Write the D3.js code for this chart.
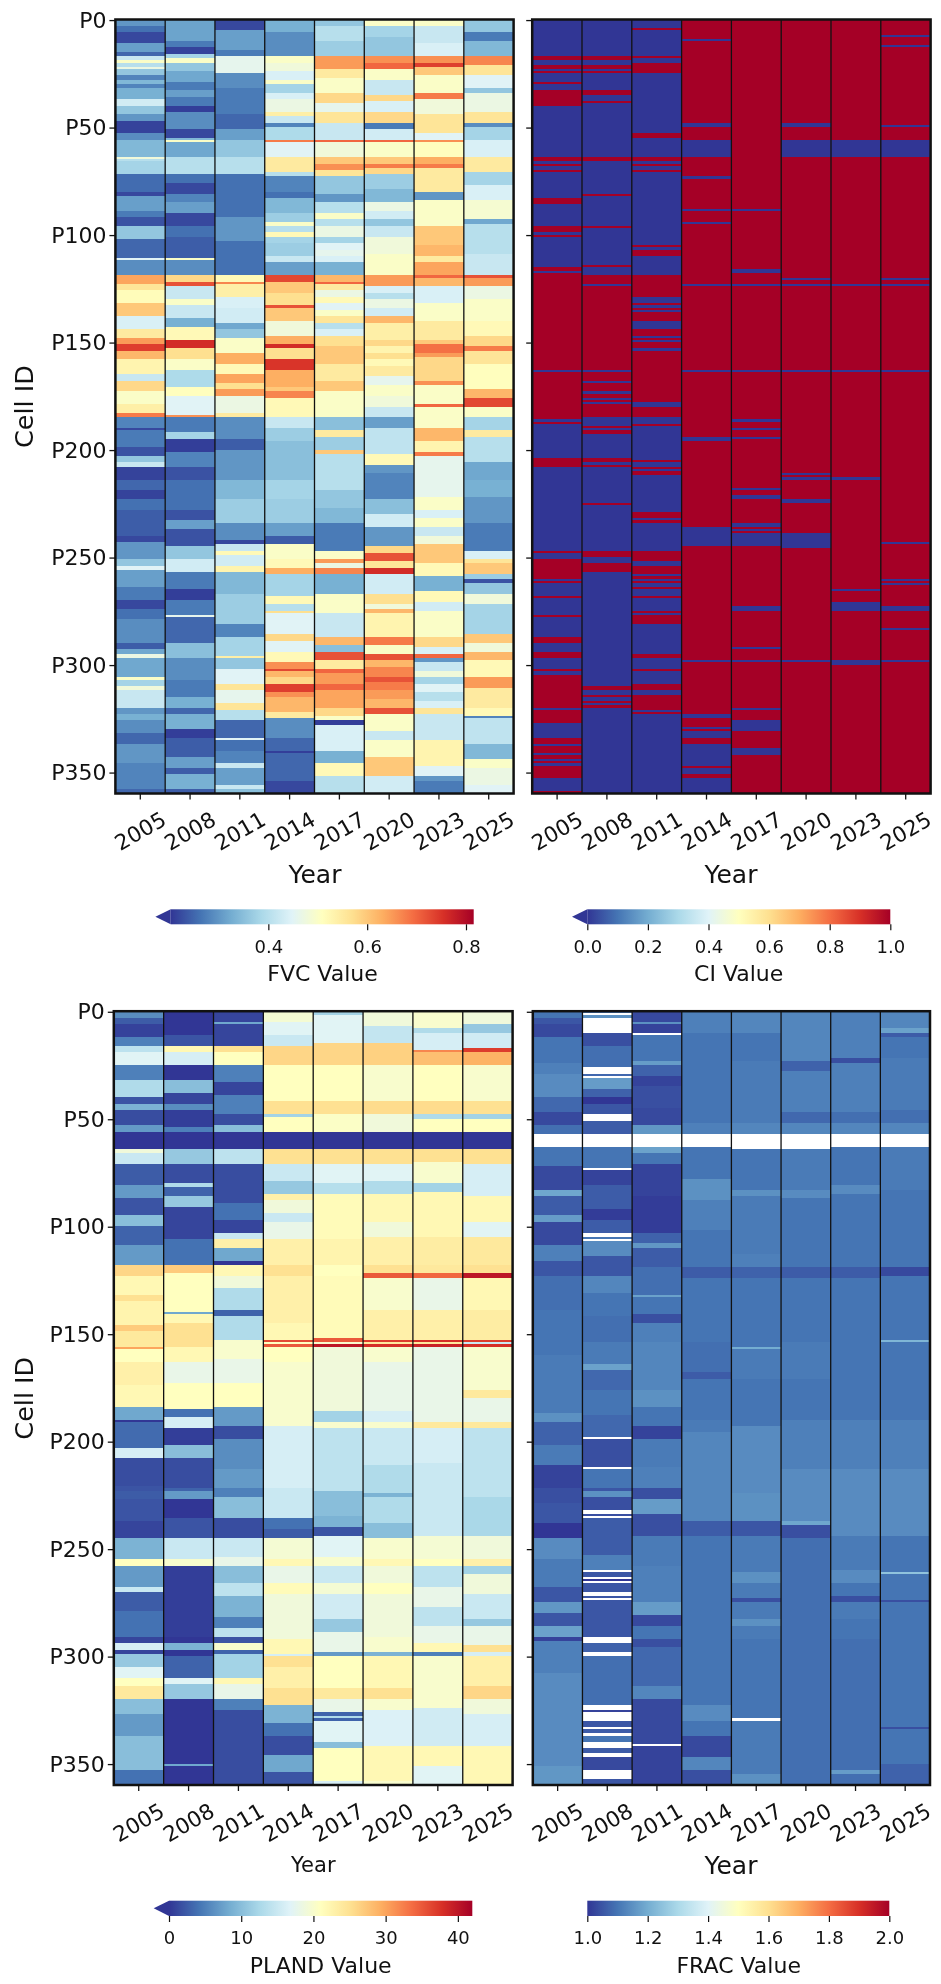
<!DOCTYPE html>
<html>
<head>
<meta charset="utf-8">
<script src="https://cdn.jsdelivr.net/npm/d3@7"></script>
<style>
  html, body { margin: 0; padding: 0; background: #fff; }
  svg { display: block; font-family: "DejaVu Sans", sans-serif; filter: blur(0.45px); }
</style>
</head>
<body>
<div id="chart"></div>
<script>
// categories and ticks
var years = ["2005", "2008", "2011", "2014", "2017", "2020", "2023", "2025"];
var cellCount = 360;
var cellTicks = [0, 50, 100, 150, 200, 250, 300, 350];
var cmapStops = ["#313695", "#4575b4", "#74add1", "#abd9e9", "#e0f3f8", "#ffffbf", "#fee090", "#fdae61", "#f46d43", "#d73027", "#a50026"];

var fvc2005 = [3,.30,6,.26,11,.22,15,.31,17,.25,19,.42,20,.5,22,.40,23,.47,26,.36,28,.28,30,.34,32,.28,37,.33,40,.43,44,.36,47,.30,53,.215,56,.29,64,.34,65,.48,66,.40,72,.38,80,.255,82,.22,89,.31,92,.27,96,.23,102,.36,111,.25,112,.45,119,.29,123,.64,126,.56,132,.515,138,.60,144,.44,148,.55,151,.65,154,.74,158,.62,165,.53,168,.42,173,.58,179,.50,183,.54,185,.68,190,.28,191,.22,199,.27,203,.23,206,.36,208,.42,214,.215,219,.25,223,.215,228,.26,240,.24,243,.22,251,.30,254,.36,256,.45,264,.31,270,.27,274,.22,279,.26,290,.29,293,.24,295,.32,297,.47,306,.32,307,.5,310,.38,312,.48,320,.42,323,.30,326,.33,332,.29,337,.25,346,.30,358,.28,360,.25];
var fvc2008 = [10,.315,13,.27,16,.215,18,.38,20,.50,24,.36,29,.32,33,.27,36,.31,40,.27,43,.21,51,.29,55,.22,56,.34,57,.50,64,.32,72,.40,76,.26,81,.22,85,.28,90,.31,96,.22,101,.26,111,.24,112,.50,119,.29,122,.58,124,.72,130,.42,133,.50,139,.42,143,.33,149,.52,153,.76,158,.57,163,.50,171,.39,175,.51,184,.45,185,.66,192,.27,195,.38,201,.21,208,.28,214,.23,228,.26,233,.23,237,.31,245,.23,251,.36,257,.43,265,.27,270,.21,277,.27,278,.46,290,.25,297,.35,307,.29,315,.27,320,.33,323,.25,330,.33,334,.21,343,.24,348,.31,351,.24,358,.33,360,.24];
var fvc2011 = [5,.22,14,.31,17,.27,25,.46,32,.29,44,.27,51,.25,56,.31,64,.36,72,.40,80,.26,92,.26,103,.30,119,.26,122,.52,123,.67,129,.54,134,.44,141,.43,144,.32,148,.36,155,.50,160,.63,165,.52,169,.64,172,.57,175,.65,183,.47,185,.55,195,.29,200,.24,214,.30,223,.34,234,.37,242,.29,244,.22,247,.42,249,.52,254,.43,257,.53,267,.34,281,.37,287,.28,296,.38,297,.54,302,.36,309,.45,312,.56,318,.46,321,.56,326,.40,334,.25,335,.45,340,.26,346,.28,348,.42,356,.31,358,.42,360,.35];
var fvc2014 = [6,.33,17,.29,20,.50,24,.48,28,.44,30,.50,34,.38,37,.44,43,.47,45,.54,48,.42,50,.28,56,.39,57,.68,64,.45,71,.55,73,.40,80,.28,83,.26,90,.34,94,.37,96,.50,99,.40,101,.52,104,.38,110,.37,113,.42,119,.31,122,.73,127,.60,133,.57,134,.72,140,.60,147,.48,151,.63,153,.76,158,.57,163,.75,171,.63,173,.60,176,.67,185,.52,190,.42,196,.37,214,.35,223,.38,234,.37,240,.31,244,.24,251,.50,255,.52,258,.63,268,.38,272,.52,275,.40,276,.57,286,.45,289,.58,294,.45,299,.52,302,.66,303,.73,306,.62,309,.58,313,.74,315,.66,322,.62,325,.55,334,.29,340,.25,341,.21,354,.25,360,.22];
var fvc2017 = [3,.36,10,.40,17,.37,23,.65,27,.55,34,.50,39,.58,43,.46,48,.56,56,.42,57,.70,64,.48,67,.60,70,.66,73,.56,81,.36,85,.30,90,.40,93,.50,96,.40,101,.47,104,.38,107,.45,110,.46,113,.44,119,.33,122,.62,123,.70,126,.55,129,.47,132,.52,135,.45,138,.50,141,.56,144,.40,147,.44,152,.57,160,.60,168,.55,173,.60,185,.50,191,.35,194,.55,200,.37,202,.60,219,.40,227,.36,234,.34,247,.27,251,.50,253,.65,255,.47,258,.67,267,.33,276,.50,287,.42,291,.62,294,.35,298,.72,302,.55,304,.70,309,.65,312,.70,320,.64,324,.58,326,.50,328,.21,340,.44,346,.33,352,.52,360,.40];
var fvc2020 = [3,.50,8,.38,17,.36,20,.66,23,.70,28,.50,35,.42,38,.58,43,.44,48,.58,51,.27,56,.43,57,.70,64,.50,67,.60,69,.68,72,.58,79,.37,85,.34,89,.47,93,.43,96,.36,101,.42,109,.48,119,.50,124,.65,127,.44,130,.40,134,.47,138,.43,141,.62,149,.54,152,.58,155,.53,158,.57,161,.52,166,.55,170,.46,175,.50,180,.48,185,.42,190,.31,202,.41,207,.52,211,.30,223,.28,230,.35,236,.43,245,.30,248,.58,252,.72,255,.56,258,.76,267,.43,272,.57,274,.48,276,.62,287,.53,291,.68,295,.50,298,.72,301,.62,306,.67,308,.72,312,.68,316,.65,320,.62,323,.72,331,.50,335,.42,343,.50,352,.60,360,.43];
var fvc2023 = [3,.50,11,.42,17,.44,20,.66,22,.74,26,.60,34,.50,37,.68,44,.48,53,.56,56,.45,57,.66,64,.51,67,.63,69,.68,80,.55,84,.30,96,.50,105,.60,110,.62,113,.55,119,.64,120,.70,124,.62,132,.44,140,.50,149,.55,151,.60,155,.69,157,.65,168,.58,170,.66,179,.50,180,.70,190,.50,196,.62,201,.53,203,.68,222,.46,228,.50,232,.44,236,.50,240,.42,244,.48,253,.60,259,.52,266,.33,271,.52,275,.43,287,.50,292,.58,295,.44,297,.70,299,.30,303,.42,306,.48,309,.38,313,.45,317,.40,320,.44,323,.56,335,.42,347,.53,352,.45,354,.30,360,.27];
var fvc2025 = [6,.36,10,.27,17,.34,21,.67,26,.56,32,.45,34,.36,43,.47,48,.56,50,.29,56,.38,64,.44,71,.55,77,.38,84,.44,93,.49,95,.32,109,.40,119,.42,120,.72,124,.65,130,.47,140,.50,147,.52,152,.58,154,.68,160,.56,172,.51,176,.62,180,.73,185,.50,191,.38,194,.55,206,.40,214,.32,222,.33,234,.30,247,.27,251,.44,253,.56,258,.60,260,.37,262,.23,267,.36,272,.48,286,.38,290,.60,294,.48,298,.62,306,.52,311,.65,320,.55,324,.52,325,.28,337,.41,344,.34,348,.50,356,.47,360,.45];

var ci2005 = [17,0,19,1,21,0,23,1,24,0,25,1,29,0,30,1,33,0,40,1,64,0,66,1,67,0,68,1,70,0,71,1,83,0,86,1,96,0,99,1,100,0,101,1,115,0,117,1,118,0,163,1,164,0,186,1,187,0,188,1,204,0,208,1,247,0,248,1,251,0,260,1,261,0,262,1,268,0,269,1,277,0,278,1,287,0,290,1,294,0,297,1,302,0,303,1,305,0,320,1,321,0,327,1,334,0,337,1,338,0,341,1,342,0,344,1,345,0,346,1,347,0,353,1,359,0,360,1];
var ci2008 = [17,0,19,1,21,0,23,1,24,0,25,1,33,0,35,1,38,0,39,1,64,0,66,1,81,0,82,1,96,0,97,1,114,0,115,1,119,0,123,1,124,0,163,1,164,0,168,1,169,0,173,1,174,0,176,1,177,0,178,1,179,0,185,1,189,0,190,1,191,0,193,1,204,0,206,1,207,0,208,1,225,0,226,1,247,0,250,1,253,0,257,1,310,0,312,1,314,0,315,1,317,0,318,1,319,0,320,1,360,0];
var ci2011 = [4,0,5,1,17,0,18,1,20,0,25,1,53,0,55,1,64,0,66,1,67,0,68,1,70,0,71,1,105,0,106,1,107,0,110,1,119,0,129,1,132,0,133,1,134,0,135,1,136,0,140,1,144,0,147,1,148,0,149,1,150,0,153,1,154,0,178,1,180,0,185,1,188,0,189,1,205,0,206,1,208,0,209,1,210,0,212,1,229,0,232,1,233,0,234,1,247,0,252,1,254,0,258,1,259,0,260,1,261,0,262,1,264,0,265,1,268,0,269,1,275,0,276,1,277,0,281,1,295,0,297,1,302,0,303,1,309,0,312,1,314,0,321,1,322,0,323,1,360,0];
var ci2014 = [9,1,10,0,48,1,50,0,56,1,64,0,73,1,74,0,88,1,89,0,94,1,95,0,123,1,124,0,163,1,164,0,194,1,196,0,236,1,245,0,298,1,299,0,323,1,325,0,329,1,330,0,331,1,334,0,337,1,347,0,348,1,351,0,353,1,360,0];
var ci2017 = [88,1,89,0,116,1,118,0,123,1,124,0,163,1,164,0,186,1,187,0,190,1,191,0,194,1,195,0,218,1,219,0,221,1,223,0,234,1,236,0,237,1,238,0,239,1,245,0,273,1,275,0,292,1,293,0,298,1,299,0,320,1,321,0,326,1,331,0,339,1,342,0,360,1];
var ci2020 = [48,1,50,0,56,1,64,0,120,1,121,0,123,1,124,0,163,1,164,0,211,1,212,0,213,1,214,0,223,1,225,0,239,1,246,0,298,1,299,0,360,1];
var ci2023 = [56,1,64,0,123,1,124,0,163,1,164,0,213,1,214,0,265,1,266,0,271,1,275,0,298,1,300,0,360,1];
var ci2025 = [7,1,8,0,12,1,13,0,49,1,50,0,56,1,64,0,120,1,121,0,123,1,124,0,163,1,164,0,243,1,244,0,260,1,261,0,262,1,263,0,273,1,275,0,283,1,284,0,298,1,299,0,360,1];

var pland2005 = [3,6,6,2.5,12,.8,16,5,19,14,25,17,32,5,40,13,43,2,46,9,53,1.5,56,7,64,0,66,19,71,15,81,2.5,87,7,95,2,100,10,109,3,118,7,123,26,132,22,135,25,146,22.5,149,27,156,24,157,30,163,21,174,23,184,22,190,8,191,0,203,3.5,208,16,221,1.5,223,2,227,2.5,237,2,245,1,255,9,258,21,268,7,270,15,279,2.5,291,4,294,1,297,16,299,1,305,11,310,17,314,21,320,24,327,10,337,7,353,10,360,4];
var pland2008 = [11,0,16,2,19,22,25,16,32,0,38,10,43,1,46,6,54,.5,56,5,64,0,71,11,80,1.5,82,13,86,3,91,11,95,1,106,1,118,4,122,27,140,21,141,8,145,22,156,25,163,22,173,18,185,21,189,4,194,16,202,.5,208,10,222,1.5,223,3,227,7,236,0,245,2,255,15,258,20,291,.5,294,0,297,9,300,0,310,3,313,17,320,11,350,0,351,8,360,0];
var pland2011 = [5,1,6,8,16,1,19,25,25,21,33,5,39,1,48,5,53,1.5,56,10,64,0,71,14,89,1.5,97,4,103,1,106,15,110,23,116,8,118,0,123,22,129,19,139,13,142,3,153,13,162,20,173,18,184,21,193,7,199,1.5,213,6,222,7,226,5,236,10,245,1.5,254,15,258,18,266,10,272,14,282,9,287,5,291,14,294,2,297,20,299,3,310,12,313,22,320,18,325,5,360,1.5];
var pland2014 = [5,19.5,11,17,16,15,25,26,42,21,48,25,49,12,56,21,64,0,71,25,79,15,85,11,88,23,94,19,98,15,106,18,118,23,123,25,145,23,153,22,154,36,155,21,156,35,163,21,193,20,222,16,236,15,241,4,245,2.5,255,19.5,258,22,266,18,271,21.5,292,19,299,22,300,16,305,25,315,23,323,25,331,9,337,4,346,1.5,354,8,360,2];
var pland2017 = [2,12,15,17,25,26,42,21,48,25,56,20.5,64,0,71,25,80,17,85,13.5,106,21.5,118,22.5,123,21,152,21.5,154,35,155,20,156,40,186,19,191,12,194,20,223,14,235,10,240,9,244,2,254,17,258,20,266,15,271,19.5,283,15.5,289,11,298,18,300,7,315,21,320,24,326,18,328,3,329,13,330,3,340,17,343,10,358,21,360,16];
var pland2020 = [7,19,15,14.5,25,26.5,42,20,48,25.5,56,19,64,0,71,25,79,17,85,13,98,22,105,19,118,23,122,25,124,35,139,20,153,23,154,37,155,24,156,38,163,20,186,18,191,16,194,20,211,15,224,13,226,9,238,13,245,10,255,20,258,22,266,19,271,21,291,19,298,20,300,9,315,22,320,25,325,20,342,16.5,358,22,360,20];
var pland2023 = [8,20,10,13,18,16,19,32,25,28,42,21,48,25.5,50,13,56,21,64,0,70,25,80,20,84,12,105,22,118,23.5,122,24,124,34,139,18,153,23,154,38,155,24,156,39,191,18,194,24,210,16,244,15,255,19.5,258,21,268,14,277,18,286,14,294,18,298,22,300,5,324,20,342,15.5,351,22,360,17];
var pland2025 = [6,19,10,11,17,15.5,19,37,25,29,42,20,48,25,50,12,56,21,64,0,71,25,86,16,98,22,105,17,118,24,122,25,124,40,139,22,153,23.5,154,37,155,15,156,38,176,20,180,24,191,18,194,24,226,14,244,12.5,255,19,258,23,262,12,271,19,283,15,286,11,295,18,298,25,300,16,314,23,320,26,327,19,342,16,360,22];

// null = no data, left white
var frac2005 = [3,1.10,6,1.05,12,1.03,24,1.10,29,1.12,40,1.14,47,1.08,53,1.03,57,1.09,63,null,72,1.10,83,1.03,86,1.19,95,1.06,98,1.17,109,1.03,116,1.12,123,1.05,139,1.09,160,1.10,187,1.11,191,1.15,202,1.07,211,1.11,222,1.02,229,1.04,238,1.05,245,1.0,255,1.14,268,1.11,275,1.05,280,1.16,286,1.05,291,1.18,293,1.02,308,1.12,327,1.14,351,1.14,360,1.16];
var frac2008 = [1,1.10,2,null,3,1.15,10,null,16,1.04,26,1.09,29,null,30,1.08,31,null,36,1.17,40,1.07,43,1.0,48,1.05,51,null,57,1.06,63,null,73,1.10,74,null,81,1.02,92,1.06,97,1.01,103,1.06,105,null,106,1.10,107,null,114,1.14,123,1.05,131,1.13,142,1.10,154,1.09,164,1.11,167,1.18,176,1.08,188,1.10,198,1.08,199,null,212,1.04,213,null,222,1.10,223,1.05,226,1.15,232,1.04,234,null,235,1.04,236,null,253,1.06,260,1.12,261,null,263,1.05,264,null,265,1.0,266,null,270,1.05,272,null,273,1.05,274,null,291,1.05,294,null,298,1.07,300,null,323,1.09,325,null,326,1.02,330,null,333,1.05,334,null,336,1.06,337,null,340,1.10,343,null,345,1.06,347,null,353,1.03,357,null,360,1.05];
var frac2011 = [5,1.03,6,1.15,10,1.02,11,null,23,1.10,25,1.17,30,1.07,35,1.02,45,1.04,53,1.03,57,1.16,63,null,66,1.18,71,1.10,86,1.02,103,1.01,108,1.07,110,1.16,119,1.06,126,1.09,132,1.09,133,1.18,141,1.10,145,1.04,154,1.12,176,1.13,184,1.15,193,1.10,199,1.02,212,1.11,222,1.12,227,1.04,234,1.17,244,1.04,258,1.11,275,1.12,281,1.17,286,1.03,292,1.10,296,1.04,314,1.08,320,1.13,341,1.03,342,null,360,1.02];
var frac2014 = [10,1.12,52,1.10,57,1.12,63,null,78,1.10,88,1.15,102,1.12,119,1.10,124,1.06,154,1.10,168,1.09,171,1.06,190,1.10,196,1.11,237,1.13,244,1.06,323,1.10,330,1.14,337,1.10,347,1.03,353,1.13,360,1.04];
var frac2017 = [10,1.13,23,1.10,52,1.11,57,1.13,64,null,83,1.10,86,1.15,113,1.11,119,1.12,124,1.07,156,1.10,157,1.20,171,1.11,193,1.10,224,1.14,237,1.15,244,1.05,261,1.11,266,1.15,273,1.11,275,1.04,283,1.11,286,1.15,292,1.11,329,1.10,330,null,355,1.11,360,1.15];
var frac2020 = [23,1.13,28,1.07,47,1.12,52,1.08,57,1.13,64,null,83,1.11,87,1.14,119,1.10,124,1.06,154,1.10,171,1.11,190,1.10,213,1.12,224,1.14,237,1.14,239,1.19,245,1.04,360,1.09];
var frac2023 = [22,1.12,24,1.04,47,1.12,52,1.09,57,1.13,63,null,81,1.10,85,1.14,119,1.10,124,1.06,165,1.10,190,1.10,213,1.12,244,1.14,260,1.11,266,1.14,272,1.10,275,1.04,283,1.11,292,1.10,353,1.09,355,1.17,360,1.09];
var frac2025 = [8,1.13,10,1.18,12,1.06,22,1.10,46,1.11,52,1.09,57,1.13,63,null,83,1.11,119,1.10,123,1.03,153,1.10,154,1.22,190,1.10,213,1.12,244,1.14,261,1.10,262,1.25,274,1.10,275,1.04,333,1.10,334,1.04,350,1.10,360,1.07];

var panels = [
  { series: [fvc2005, fvc2008, fvc2011, fvc2014, fvc2017, fvc2020, fvc2023, fvc2025],
    left: 115.4, right: 513.6, top: 19.5, bottom: 793.5, yLabel: true, yearSize: 25, yearBase: 882.7,
    yearX: 315, tickMid: 831, vmin: 0.2024, vmax: 0.8156, arrow: true,
    cbLeft: 170.7, cbRight: 473.7, cbTop: 909.3, cbBottom: 924.3,
    cbTicks: [0.4, 0.6, 0.8], cbFormat: d3.format(".1f"), cbBase: 952.7, cbTitle: "FVC Value", cbTitleX: 322.5, cbTitleBase: 981 },
  { series: [ci2005, ci2008, ci2011, ci2014, ci2017, ci2020, ci2023, ci2025],
    left: 532.2, right: 930.6, top: 19.5, bottom: 793.5, yLabel: false, yearSize: 25, yearBase: 882.7,
    yearX: 731, tickMid: 831, vmin: 0, vmax: 1, arrow: true,
    cbLeft: 587.3, cbRight: 890.3, cbTop: 909.3, cbBottom: 924.3,
    cbTicks: [0, 0.2, 0.4, 0.6, 0.8, 1], cbFormat: d3.format(".1f"), cbBase: 952.7, cbTitle: "CI Value", cbTitleX: 738.7, cbTitleBase: 981 },
  { series: [pland2005, pland2008, pland2011, pland2014, pland2017, pland2020, pland2023, pland2025],
    left: 113.8, right: 512.6, top: 1011.2, bottom: 1785, yLabel: true, yearSize: 21, yearBase: 1872,
    yearX: 313.3, tickMid: 1822.5, vmin: 0, vmax: 42, arrow: true,
    cbLeft: 169, cbRight: 472.3, cbTop: 1900.7, cbBottom: 1916,
    cbTicks: [0, 10, 20, 30, 40], cbFormat: d3.format("d"), cbBase: 1944.3, cbTitle: "PLAND Value", cbTitleX: 320.7, cbTitleBase: 1972.7 },
  { series: [frac2005, frac2008, frac2011, frac2014, frac2017, frac2020, frac2023, frac2025],
    left: 532.8, right: 930, top: 1011.2, bottom: 1785, yLabel: false, yearSize: 25, yearBase: 1874.3,
    yearX: 731, tickMid: 1822.5, vmin: 1, vmax: 2, arrow: false,
    cbLeft: 587.3, cbRight: 889.3, cbTop: 1900.7, cbBottom: 1916,
    cbTicks: [1, 1.2, 1.4, 1.6, 1.8, 2], cbFormat: d3.format(".1f"), cbBase: 1944.3, cbTitle: "FRAC Value", cbTitleX: 738.7, cbTitleBase: 1972.7 }
];

var svg = d3.select("#chart").append("svg").attr("width", 941).attr("height", 1984);

var defs = svg.append("defs");
defs.append("linearGradient").attr("id", "cmap")
  .selectAll("stop").data(cmapStops).enter().append("stop")
  .attr("offset", (d, i) => i * 10 + "%")
  .attr("stop-color", (d) => d);

var stopAt = d3.scaleLinear().domain(d3.range(cmapStops.length).map((i) => i / 10)).range(cmapStops).clamp(true);

// pairs -> one value per row
function expandRuns(runs) {
  var out = [];
  for (var i = 0; i < runs.length; i += 2) {
    while (out.length < runs[i]) out.push(runs[i + 1]);
  }
  return out;
}

panels.forEach(function (p) {
  var g = svg.append("g");
  var x = d3.scaleBand().domain(years).range([p.left, p.right]);
  var y = d3.scaleBand().domain(d3.range(cellCount)).range([p.top, p.bottom]);
  var norm = d3.scaleLinear().domain([p.vmin, p.vmax]).range([0, 1]);

  years.forEach(function (year, c) {
    var values = expandRuns(p.series[c]);
    g.append("g").selectAll("rect")
      .data(values.map((v, r) => ({ r: r, v: v })).filter((d) => d.v !== null))
      .enter().append("rect")
      .attr("x", x(year))
      .attr("y", (d) => y(d.r))
      .attr("width", x.bandwidth())
      .attr("height", y.bandwidth())
      .attr("shape-rendering", "crispEdges")
      .attr("fill", (d) => stopAt(norm(d.v)));
  });

  // column separators
  g.append("g").selectAll("line").data(years.slice(1)).enter().append("line")
    .attr("x1", (d) => x(d)).attr("x2", (d) => x(d))
    .attr("y1", p.top).attr("y2", p.bottom)
    .attr("stroke", "#111").attr("stroke-width", 1.3);

  g.append("rect")
    .attr("x", p.left).attr("y", p.top)
    .attr("width", p.right - p.left).attr("height", p.bottom - p.top)
    .attr("fill", "none").attr("stroke", "#111").attr("stroke-width", 2.5);

  // axes
  var yAxis = g.append("g").attr("transform", "translate(" + p.left + ",0)")
    .call(d3.axisLeft(y).tickValues(cellTicks).tickFormat((d) => (p.yLabel ? "P" + d : "")).tickSize(6).tickPadding(3));
  yAxis.select(".domain").remove();
  yAxis.selectAll("line").attr("stroke", "#111").attr("stroke-width", 1.3);
  yAxis.selectAll("text").attr("font-size", 22).attr("font-family", "DejaVu Sans").attr("fill", "#111");

  var xAxis = g.append("g").attr("transform", "translate(0," + p.bottom + ")")
    .call(d3.axisBottom(x).tickSize(6));
  xAxis.select(".domain").remove();
  xAxis.selectAll("line").attr("stroke", "#111").attr("stroke-width", 1.3);
  xAxis.selectAll("text")
    .attr("font-size", 21.5).attr("font-family", "DejaVu Sans").attr("fill", "#111")
    .attr("text-anchor", "middle").attr("dominant-baseline", "central")
    .attr("y", 0).attr("dy", 0)
    .attr("transform", "translate(0," + (p.tickMid - p.bottom) + ") rotate(-30)");

  g.append("text").attr("x", p.yearX).attr("y", p.yearBase)
    .attr("text-anchor", "middle").attr("font-size", p.yearSize).attr("fill", "#111").text("Year");

  if (p.yLabel) {
    g.append("text")
      .attr("transform", "translate(33," + (p.top + 387) + ") rotate(-90)")
      .attr("text-anchor", "middle").attr("font-size", 25.5).attr("fill", "#111").text("Cell ID");
  }

  // colorbar
  var cb = svg.append("g");
  var cbScale = d3.scaleLinear().domain([p.vmin, p.vmax]).range([p.cbLeft, p.cbRight]);
  cb.append("rect")
    .attr("x", p.cbLeft).attr("y", p.cbTop)
    .attr("width", p.cbRight - p.cbLeft).attr("height", p.cbBottom - p.cbTop)
    .attr("fill", "url(#cmap)");
  if (p.arrow) {
    cb.append("path")
      .attr("d", "M" + p.cbLeft + "," + p.cbTop + "L" + (p.cbLeft - 15.3) + "," + (p.cbTop + p.cbBottom) / 2 + "L" + p.cbLeft + "," + p.cbBottom + "Z")
      .attr("fill", cmapStops[0]);
  }
  var cbAxis = cb.append("g").attr("transform", "translate(0," + p.cbBottom + ")")
    .call(d3.axisBottom(cbScale).tickValues(p.cbTicks).tickFormat(p.cbFormat).tickSize(6));
  cbAxis.select(".domain").remove();
  cbAxis.selectAll("line").attr("stroke", "#111").attr("stroke-width", 1.2);
  cbAxis.selectAll("text")
    .attr("font-size", 18).attr("font-family", "DejaVu Sans").attr("fill", "#111")
    .attr("y", p.cbBase - p.cbBottom).attr("dy", 0);
  cb.append("text").attr("x", p.cbTitleX).attr("y", p.cbTitleBase)
    .attr("text-anchor", "middle").attr("font-size", 22).attr("fill", "#111").text(p.cbTitle);
});
</script>
</body>
</html>
